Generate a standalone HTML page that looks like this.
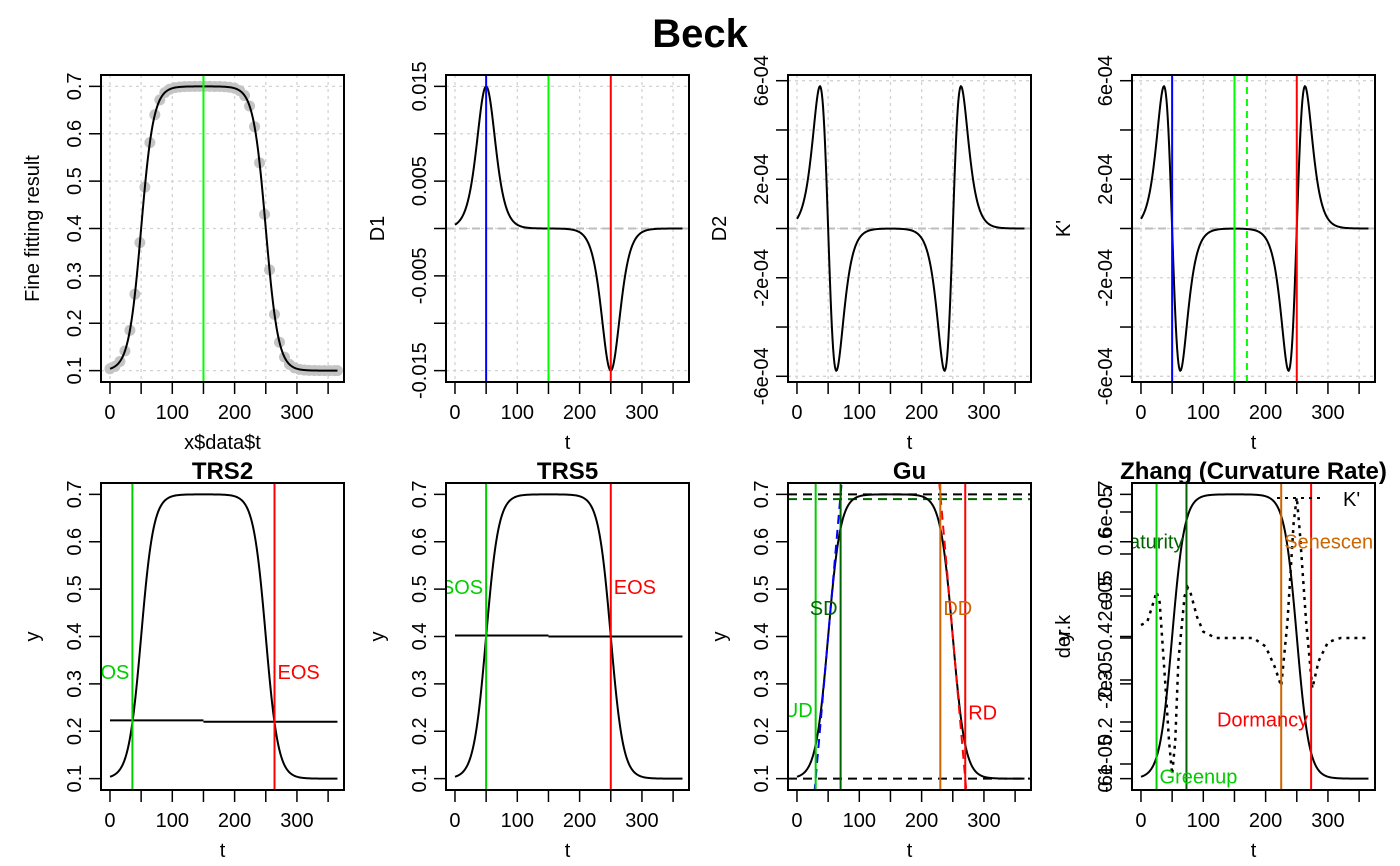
<!DOCTYPE html>
<html><head><meta charset="utf-8"><title>Beck</title>
<style>
html,body{margin:0;padding:0;background:#fff;}
svg{display:block;font-family:"Liberation Sans",Arial,sans-serif;}
</style></head>
<body>
<svg id="fig" width="1400" height="866" viewBox="0 0 1400 866" xmlns="http://www.w3.org/2000/svg">
<text x="700" y="47" text-anchor="middle" font-size="40" font-weight="bold">Beck</text>
</svg>
<script>
// ---- model / data arrays ----
const baseMin = [0.1];
const baseMax = [0.7];
const sosDay = [50];
const eosDay = [250];
const rateSp = [0.1];
const rateAu = [0.1];
const obsDays = [0,8,16,24,32,40,48,56,64,72,80,88,96,104,112,120,128,136,144,152,160,168,176,184,192,200,208,216,224,232,240,248,256,264,272,280,288,296,304,312,320,328,336,344,352,360,365];
const xTicks = [0,50,100,150,200,250,300,350];
const xTickLabels = ["0","100","200","300"];
const fitYTicks = [0.1,0.2,0.3,0.4,0.5,0.6,0.7];
const d1Ticks = [0.015,0.01,0.005,0,-0.005,-0.01,-0.015];
const d1Labels = ["0.015","0.005","-0.005","-0.015"];
const d2Ticks = [6e-4,4e-4,2e-4,0,-2e-4,-4e-4,-6e-4];
const d2Labels = ["6e-04","2e-04","-2e-04","-6e-04"];
const fitLine = [150];
const d1Lines = [50,150,250];
const kLines = [50,150,170,250];
const trs2Days = [36,264];
const trs2Thresh = [0.223,0.220];
const trs5Days = [50,250];
const trs5Thresh = [0.402,0.400];
const guDays = [30,70,230,270];
const guLevels = [0.7,0.1,0.69];
const zhangDays = [25,73,225,273];
const kDays = [0,10,20,25,30,40,45,50,55,60,70,75,80,90,100,120,150,180,200,215,225,235,245,250,255,265,275,285,300,320,365];
const kVals = [0.62,0.76,1.7,2.2,1.7,-2.6,-4.9,-6.5,-4.9,-1.1,2.0,2.4,2.1,1.0,0.3,0,0,0,-0.4,-1.4,-2.3,0.76,5.5,6.7,5.0,0.76,-2.4,-1.1,-0.2,0,0];
const kTickVals = [6,4,2,0,-2,-4,-6];
const kTickLabels = ["6e-05","2e-05","-2e-05","-6e-05"];

// ---- helpers ----
const NS = "http://www.w3.org/2000/svg";
const svg = document.getElementById("fig");
const FS = 20;
function mk(tag, attrs, parent){
  const e = document.createElementNS(NS, tag);
  for (const k in attrs) e.setAttribute(k, attrs[k]);
  (parent||svg).appendChild(e);
  return e;
}
function beck(t){
  const mn=baseMin[0], mx=baseMax[0];
  return mn + (mx-mn)*(1/(1+Math.exp(-rateSp[0]*(t-sosDay[0]))) + 1/(1+Math.exp(rateAu[0]*(t-eosDay[0]))) - 1);
}
function d1(t){
  const mn=baseMin[0], mx=baseMax[0];
  const e1=Math.exp(-rateSp[0]*(t-sosDay[0])), e2=Math.exp(rateAu[0]*(t-eosDay[0]));
  return (mx-mn)*(rateSp[0]*e1/Math.pow(1+e1,2) - rateAu[0]*e2/Math.pow(1+e2,2));
}
function d2(t){ return (d1(t+0.01)-d1(t-0.01))/0.02; }

const W=243, H=307;
const lefts=[101,446,788,1132], tops=[75,483];
let clipId=0;
function panel(col,row,ylo,yhi){
  const L=lefts[col], T=tops[row];
  const x0=-14.4, x1=375.5;
  const ext=(yhi-ylo)*0.04, a=ylo-ext, b=yhi+ext;
  const sx=t=>L+(t-x0)/(x1-x0)*W;
  const sy=v=>T+(b-v)/(b-a)*H;
  clipId++;
  const cp=mk("clipPath",{id:"c"+clipId});
  mk("rect",{x:L,y:T,width:W,height:H},cp);
  const g=mk("g",{"clip-path":"url(#c"+clipId+")"});
  return {L,T,sx,sy,g};
}
function pathFrom(xs,ys){ return xs.map((x,i)=>(i?"L":"M")+x.toFixed(2)+","+ys[i].toFixed(2)).join(""); }
const days=[]; for(let t=0;t<=365;t++) days.push(t);

function xAxis(p,label,name){
  xTicks.forEach(t=>{
    const tk=mk("line",{x1:p.sx(t),x2:p.sx(t),y1:p.T+H,y2:p.T+H+12,stroke:"#000","stroke-width":1.5});
    
    
  });
  xTickLabels.forEach(s=>{
    const tx=mk("text",{x:p.sx(+s),y:p.T+H+37,"text-anchor":"middle","font-size":FS});
    tx.textContent=s;
    
    
  });
  const lb=mk("text",{x:p.L+W/2,y:p.T+H+67,"text-anchor":"middle","font-size":FS});
  lb.textContent=label;
  
  
}
function yAxis(p,ticks,labels,labelVals,title,name,dx){
  ticks.forEach(v=>{
    const tk=mk("line",{x1:p.L,x2:p.L-12,y1:p.sy(v),y2:p.sy(v),stroke:"#000","stroke-width":1.5});
    
    
  });
  labels.forEach((s,i)=>{
    const y=p.sy(labelVals[i]), x=p.L-20;
    const tx=mk("text",{x:x,y:y,"text-anchor":"middle","font-size":FS,transform:"rotate(-90 "+x+" "+y+")"});
    tx.textContent=s;
    
    
  });
  if(title!==null){
    const x=p.L-(dx||56), y=p.T+H/2;
    const lb=mk("text",{x:x,y:y,"text-anchor":"middle","font-size":FS,transform:"rotate(-90 "+x+" "+y+")"});
    lb.textContent=title;
    
    
  }
}
function grid(p,yt){
  xTicks.forEach(t=>{
    const gl=mk("line",{x1:p.sx(t),x2:p.sx(t),y1:p.T,y2:p.T+H,stroke:"#d3d3d3","stroke-width":1.3,"stroke-dasharray":"3,4"},p.g);
    
    
  });
  yt.forEach(v=>{
    const gl=mk("line",{x1:p.L,x2:p.L+W,y1:p.sy(v),y2:p.sy(v),stroke:"#d3d3d3","stroke-width":1.3,"stroke-dasharray":"3,4"},p.g);
    
    
  });
}
function box(p){
  const r=mk("rect",{x:p.L,y:p.T,width:W,height:H,fill:"none",stroke:"#000","stroke-width":2});
  
  
}
function vline(p,t,color,name,dash){
  const l=mk("line",{x1:p.sx(t),x2:p.sx(t),y1:p.T,y2:p.T+H,stroke:color,"stroke-width":2},p.g);
  if(dash) l.setAttribute("stroke-dasharray",dash);
  
  
}
function hline(p,v,color,name,dash,x0,x1){
  const l=mk("line",{x1:x0===undefined?p.L:p.sx(x0),x2:x1===undefined?p.L+W:p.sx(x1),y1:p.sy(v),y2:p.sy(v),stroke:color,"stroke-width":2},p.g);
  if(dash) l.setAttribute("stroke-dasharray",dash);
  
  
}
function curve(p,fn,name,color,width,dash){
  const c=mk("path",{d:pathFrom(days.map(p.sx),days.map(t=>p.sy(fn(t)))),fill:"none",stroke:color||"#000","stroke-width":width||2},p.g);
  if(dash) c.setAttribute("stroke-dasharray",dash);
  
  
}
function label(p,t,v,txt,color,anchor,name){
  const off = anchor==="end" ? -3 : 3;
  const tx=mk("text",{x:p.sx(t)+off,y:p.sy(v)+7,"text-anchor":anchor,"font-size":20,fill:color},p.g);
  tx.textContent=txt;
  
  
}
function title(p,txt,name){
  const tx=mk("text",{x:p.L+W/2,y:p.T-4,"text-anchor":"middle","font-size":24,"font-weight":"bold"});
  tx.textContent=txt;
  
  
}
const fmt=v=>v.toFixed(1);

// ---- Panel 1: fine fitting ----
let p=panel(0,0,0.1,0.7);
grid(p,fitYTicks);
obsDays.forEach(t=>{
  const c=mk("circle",{cx:p.sx(t),cy:p.sy(beck(t)),r:5.5,fill:"#c4c4c4"},p.g);
  
  
});
curve(p,beck,"fitted-curve");
fitLine.forEach(t=>vline(p,t,"#00ff00","peak-line"));
xAxis(p,"x$data$t","x-axis-title");
yAxis(p,fitYTicks,fitYTicks.map(fmt),fitYTicks,"Fine fitting result","y-axis-title",62);
box(p);

// ---- Panel 2: D1 ----
p=panel(1,0,-0.015,0.015);
grid(p,d1Ticks);
hline(p,0,"#bebebe","zero-line","8,5");
curve(p,d1,"d1-curve");
vline(p,d1Lines[0],"#0000ff","sos-line");
vline(p,d1Lines[1],"#00ff00","peak-line");
vline(p,d1Lines[2],"#ff0000","eos-line");
xAxis(p,"t","x-axis-title");
yAxis(p,d1Ticks,d1Labels,[0.015,0.005,-0.005,-0.015],"D1","y-axis-title",62);
box(p);

// ---- Panel 3: D2 ----
p=panel(2,0,-5.77e-4,5.77e-4);
grid(p,d2Ticks);
hline(p,0,"#bebebe","zero-line","8,5");
curve(p,d2,"d2-curve");
xAxis(p,"t","x-axis-title");
yAxis(p,d2Ticks,d2Labels,[6e-4,2e-4,-2e-4,-6e-4],"D2","y-axis-title",62);
box(p);

// ---- Panel 4: K' ----
p=panel(3,0,-5.77e-4,5.77e-4);
grid(p,d2Ticks);
hline(p,0,"#bebebe","zero-line","8,5");
curve(p,d2,"k-prime-curve");
vline(p,kLines[0],"#0000ff","sos-line");
vline(p,kLines[1],"#00ff00","peak-line");
vline(p,kLines[2],"#00ff00","peak-dashed-line","7,5");
vline(p,kLines[3],"#ff0000","eos-line");
xAxis(p,"t","x-axis-title");
yAxis(p,d2Ticks,d2Labels,[6e-4,2e-4,-2e-4,-6e-4],"K'","y-axis-title",62);
box(p);

// ---- Panel 5: TRS2 ----
p=panel(0,1,0.1,0.7);
title(p,"TRS2","trs2-title");
curve(p,beck,"fitted-curve");
hline(p,trs2Thresh[0],"#000","threshold-line",null,0,150);
hline(p,trs2Thresh[1],"#000","threshold-line",null,150,365);
vline(p,trs2Days[0],"#00cd00","sos-line");
vline(p,trs2Days[1],"#ff0000","eos-line");
label(p,trs2Days[0],0.325,"SOS","#00cd00","end","sos-label");
label(p,trs2Days[1],0.325,"EOS","#ff0000","start","eos-label");
xAxis(p,"t","x-axis-title");
yAxis(p,fitYTicks,fitYTicks.map(fmt),fitYTicks,"y","y-axis-title",62);
box(p);

// ---- Panel 6: TRS5 ----
p=panel(1,1,0.1,0.7);
title(p,"TRS5","trs5-title");
curve(p,beck,"fitted-curve");
hline(p,trs5Thresh[0],"#000","threshold-line",null,0,150);
hline(p,trs5Thresh[1],"#000","threshold-line",null,150,365);
vline(p,trs5Days[0],"#00cd00","sos-line");
vline(p,trs5Days[1],"#ff0000","eos-line");
label(p,trs5Days[0],0.505,"SOS","#00cd00","end","sos-label");
label(p,trs5Days[1],0.505,"EOS","#ff0000","start","eos-label");
xAxis(p,"t","x-axis-title");
yAxis(p,fitYTicks,fitYTicks.map(fmt),fitYTicks,"y","y-axis-title",62);
box(p);

// ---- Panel 7: Gu ----
p=panel(2,1,0.1,0.7);
title(p,"Gu","gu-title");
hline(p,guLevels[0],"#000","upper-level-line","9,6");
hline(p,guLevels[1],"#000","baseline-level-line","9,6");
hline(p,guLevels[2],"#006400","plateau-line","9,6");
curve(p,beck,"fitted-curve");
(function(){
  const a=mk("line",{x1:p.sx(28),y1:p.sy(0.4+0.015*(28-50)),x2:p.sx(74),y2:p.sy(0.4+0.015*(74-50)),stroke:"#0000ff","stroke-width":2,"stroke-dasharray":"9,6"},p.g);
  
  
  const b=mk("line",{x1:p.sx(226),y1:p.sy(0.4-0.015*(226-250)),x2:p.sx(272),y2:p.sy(0.4-0.015*(272-250)),stroke:"#ff0000","stroke-width":2,"stroke-dasharray":"9,6"},p.g);
  
  
})();
vline(p,guDays[0],"#00cd00","ud-line");
vline(p,guDays[1],"#006400","sd-line");
vline(p,guDays[2],"#cd6600","dd-line");
vline(p,guDays[3],"#ff0000","rd-line");
label(p,guDays[0],0.245,"UD","#00cd00","end","ud-label");
label(p,guDays[1],0.46,"SD","#006400","end","sd-label");
label(p,guDays[2],0.46,"DD","#cd6600","start","dd-label");
label(p,guDays[3],0.24,"RD","#ff0000","start","rd-label");
xAxis(p,"t","x-axis-title");
yAxis(p,fitYTicks,fitYTicks.map(fmt),fitYTicks,"y","y-axis-title",62);
box(p);

// ---- Panel 8: Zhang ----
p=panel(3,1,0.1,0.7);
title(p,"Zhang (Curvature Rate)","zhang-title");
curve(p,beck,"fitted-curve");
const ky=v=>638-v*21;
(function(){
  const k=mk("path",{d:pathFrom(kDays.map(p.sx),kVals.map(ky)),fill:"none",stroke:"#000","stroke-width":2.5,"stroke-dasharray":"3,5"},p.g);
  
  
  const lg=mk("line",{x1:1277,x2:1320,y1:498,y2:498,stroke:"#000","stroke-width":2,"stroke-dasharray":"3,5"});
  
  
  const lt=mk("text",{x:1343,y:506,"font-size":20});
  lt.textContent="K'";
  
  
})();
vline(p,zhangDays[0],"#00cd00","greenup-line");
vline(p,zhangDays[1],"#006400","maturity-line");
vline(p,zhangDays[2],"#cd6600","senescence-line");
vline(p,zhangDays[3],"#ff0000","dormancy-line");
label(p,zhangDays[1],0.6,"Maturity","#006400","end","maturity-label");
label(p,zhangDays[2],0.6,"Senescence","#cd6600","start","senescence-label");
label(p,zhangDays[3],0.225,"Dormancy","#ff0000","end","dormancy-label");
label(p,zhangDays[0],0.105,"Greenup","#00cd00","start","greenup-label");
xAxis(p,"t","x-axis-title");
yAxis(p,fitYTicks,fitYTicks.map(fmt),fitYTicks,"y","y-axis-title",62);
kTickVals.forEach(v=>{
  const tk=mk("line",{x1:p.L,x2:p.L-12,y1:ky(v),y2:ky(v),stroke:"#000","stroke-width":1.5});
  
  
});
kTickLabels.forEach((s,i)=>{
  const v=[6,2,-2,-6][i], x=p.L-20, y=ky(v);
  const tx=mk("text",{x:x,y:y,"text-anchor":"middle","font-size":FS,transform:"rotate(-90 "+x+" "+y+")"});
  tx.textContent=s;
  
  
});
(function(){
  const x=p.L-62, y=p.T+H/2;
  const lb=mk("text",{x:x,y:y,"text-anchor":"middle","font-size":FS,transform:"rotate(-90 "+x+" "+y+")"});
  lb.textContent="der.k";
  
  
})();
box(p);
</script>
</body></html>
